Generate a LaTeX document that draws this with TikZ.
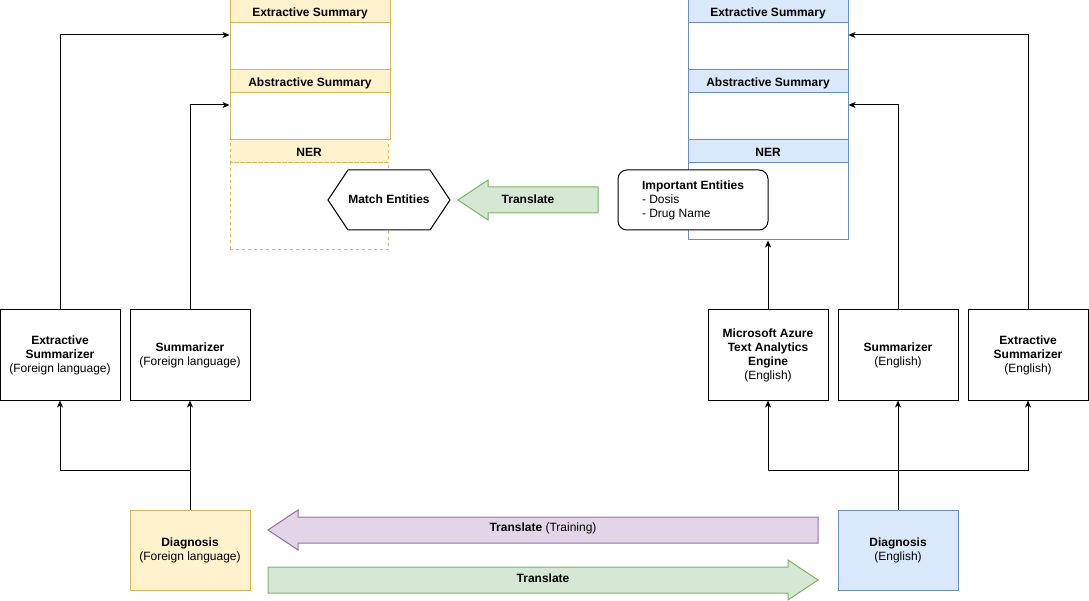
\documentclass[tikz,border=0pt]{standalone}
\usepackage{fontspec}
\setmainfont{Liberation Sans}
\usetikzlibrary{arrows.meta}
\definecolor{yfill}{HTML}{FFF2CC}
\definecolor{ystroke}{HTML}{D6B656}
\definecolor{bfill}{HTML}{DAE8FC}
\definecolor{bstroke}{HTML}{6C8EBF}
\definecolor{gfill}{HTML}{D5E8D4}
\definecolor{gstroke}{HTML}{82B366}
\definecolor{pfill}{HTML}{E1D5E7}
\definecolor{pstroke}{HTML}{9673A6}
\tikzset{
  every node/.style={font=\fontsize{12}{14}\selectfont, inner sep=0pt, align=center},
  box/.style={draw=black, line width=1pt, minimum width=120pt, minimum height=90pt, fill=white},
  hdr/.style={line width=1pt, minimum width=160pt, minimum height=23pt, text height=10.6pt, text depth=0pt, font=\fontsize{12}{14}\selectfont\bfseries},
  yhead/.style={hdr, draw=ystroke, fill=yfill},
  ybody/.style={draw=ystroke, fill=white, line width=1pt, minimum width=160pt, minimum height=47pt},
  bhead/.style={hdr, draw=bstroke, fill=bfill},
  bbody/.style={draw=bstroke, fill=white, line width=1pt, minimum width=160pt, minimum height=47pt},
  dashy/.style={dash pattern=on 3pt off 3pt},
  conn/.style={draw=black, line width=1pt, -{Stealth[length=7pt,width=6pt,inset=2pt]}},
  plain/.style={draw=black, line width=1pt},
}
\begin{document}
\begin{tikzpicture}[x=1pt,y=-1pt]
\useasboundingbox (0,0) rectangle (1089,601);
\fill[white] (0,0) rectangle (1089,601);

% left stack (yellow)
\node[yhead] (exhL) at (310,11.5) {Extractive Summary};
\node[ybody] (exbL) at (310,46.5) {};
\node[yhead] (abhL) at (310,81.5) {Abstractive Summary};
\node[ybody] (abbL) at (310,116.5) {};
\node[yhead, dashy, minimum width=158pt] (nerhL) at (309,151.5) {NER};
\node[ybody, dashy, minimum width=158pt, minimum height=87pt] (nerbL) at (309,206.5) {};

% right stack (blue)
\node[bhead] (exhR) at (768,11.5) {Extractive Summary};
\node[bbody] (exbR) at (768,46.5) {};
\node[bhead] (abhR) at (768,81.5) {Abstractive Summary};
\node[bbody] (abbR) at (768,116.5) {};
\node[bhead] (nerhR) at (768,151.5) {NER};
\node[bbody, minimum height=77pt] (nerbR) at (768,201.5) {};

% hexagon Match Entities
\draw[black, line width=1pt, fill=white] (328,200) -- (348,170) -- (430,170) -- (450,200) -- (430,230) -- (348,230) -- cycle;
\node[font=\fontsize{12}{14}\selectfont\bfseries] (match) at (389,199) {Match Entities};

% Translate arrow (top, green, pointing left)
\draw[draw=gstroke, fill=gfill, line width=1pt] (458,200) -- (488,180) -- (488,187) -- (598,187) -- (598,213) -- (488,213) -- (488,220) -- cycle;
\node[font=\fontsize{12}{14}\selectfont\bfseries] (trTop) at (528,199) {Translate};

% Important entities
\node[draw=black, line width=1pt, fill=white, rounded corners=9pt, minimum width=150pt, minimum height=60pt, align=left] (imp) at (693,200)
  {\textbf{Important Entities}\\- Dosis\\- Drug Name};

% bottom-left boxes
\node[box] (exsF) at (60,355) {\textbf{Extractive}\\\textbf{Summarizer}\\(Foreign language)};
\node[box] (sumF) at (190,355) {\textbf{Summarizer}\\(Foreign language)};
% right boxes
\node[box] (ms) at (768,355) {\textbf{Microsoft Azure}\\\textbf{Text Analytics}\\\textbf{Engine}\\(English)};
\node[box] (sumE) at (898,355) {\textbf{Summarizer}\\(English)};
\node[box] (exsE) at (1028,355) {\textbf{Extractive}\\\textbf{Summarizer}\\(English)};

% diagnosis
\node[draw=ystroke, fill=yfill, line width=1pt, minimum width=120pt, minimum height=80pt] (diagF) at (190,550) {\textbf{Diagnosis}\\(Foreign language)};
\node[draw=bstroke, fill=bfill, line width=1pt, minimum width=120pt, minimum height=80pt] (diagE) at (898,550) {\textbf{Diagnosis}\\(English)};

% purple translate (training)
\draw[draw=pstroke, fill=pfill, line width=1pt] (268,530) -- (298,510) -- (298,517) -- (818,517) -- (818,543) -- (298,543) -- (298,550) -- cycle;
\node (trTrain) at (543,528) {\textbf{Translate} (Training)};

% green translate bottom
\draw[draw=gstroke, fill=gfill, line width=1pt] (818,580) -- (788,560) -- (788,567) -- (268,567) -- (268,593) -- (788,593) -- (788,600) -- cycle;
\node[font=\fontsize{12}{14}\selectfont\bfseries] (trBot) at (543,578) {Translate};

% connectors
\coordinate (jL) at (190,470);
\coordinate (jR) at (898,470);
\draw[plain] (diagF.north) -- (jL);
\draw[conn] (jL) -| (exsF.south);
\draw[conn] (jL) -- (sumF.south);
\draw[conn] (exsF.north) |- ([yshift=11.5pt]exbL.west);
\draw[conn] (sumF.north) |- ([yshift=11.5pt]abbL.west);

\draw[plain] (diagE.north) -- (jR);
\draw[conn] (jR) -| (ms.south);
\draw[conn] (jR) -- (sumE.south);
\draw[conn] (jR) -| (exsE.south);
\draw[conn] (ms.north) -- (nerbR.south);
\draw[conn] (sumE.north) |- ([yshift=11.5pt]abbR.east);
\draw[conn] (exsE.north) |- ([yshift=11.5pt]exbR.east);
\end{tikzpicture}
\end{document}
